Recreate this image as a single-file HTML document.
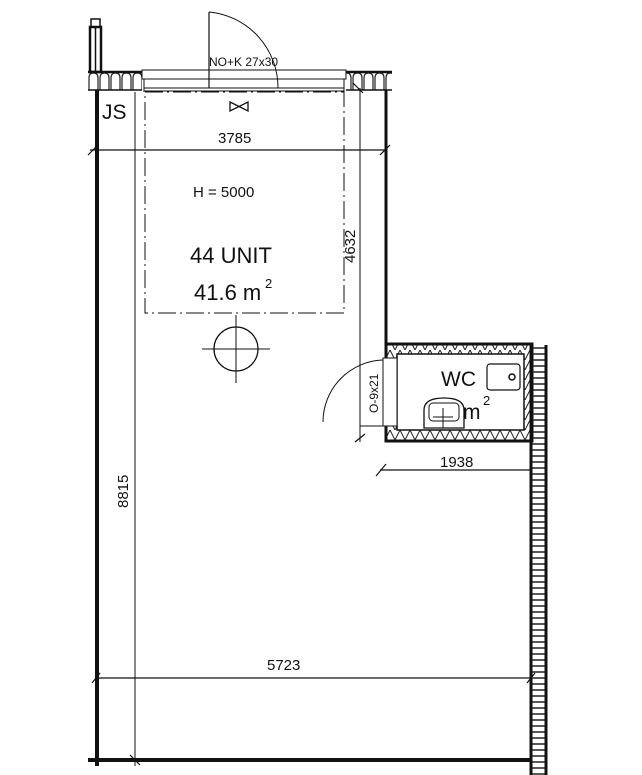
<!DOCTYPE html>
<html><head><style>body{margin:0;background:#fff}svg{display:block}text{font-family:"Liberation Sans",sans-serif;fill:#111}</style></head>
<body>
<svg width="642" height="775" viewBox="0 0 642 775" xmlns="http://www.w3.org/2000/svg">
<defs>
<pattern id="wave" width="11" height="18" patternUnits="userSpaceOnUse" x="88" y="72">
<path d="M1 18 V6 Q1 1 5.5 1 Q10 1 10 6 V18" fill="none" stroke="#222" stroke-width="1.2"/>
</pattern>
<pattern id="zig" width="10" height="10" patternUnits="userSpaceOnUse">
<path d="M0 0 L5 10 L10 0" fill="none" stroke="#222" stroke-width="1"/>
</pattern>
<pattern id="ladder" width="18" height="6" patternUnits="userSpaceOnUse" x="530" y="345">
<line x1="0" y1="3" x2="18" y2="3" stroke="#222" stroke-width="1.4"/>
</pattern>
</defs>
<g stroke="#111" fill="none">
<rect x="91" y="19" width="9" height="8" stroke-width="1.5"/>
<rect x="90" y="27" width="11" height="45" stroke-width="2.5"/>
<line x1="95.5" y1="27" x2="95.5" y2="72" stroke-width="1.5"/>
<rect x="88" y="72" width="54" height="18" fill="url(#wave)" stroke="none"/>
<rect x="346" y="72" width="46" height="18" fill="url(#wave)" stroke="none"/>
<line x1="88" y1="72" x2="142" y2="72" stroke-width="2.5"/>
<line x1="346" y1="72" x2="392" y2="72" stroke-width="2.5"/>
<line x1="88" y1="90" x2="142" y2="90" stroke-width="1.5"/>
<line x1="346" y1="90" x2="392" y2="90" stroke-width="1.5"/>
<rect x="142" y="70" width="204" height="9" stroke-width="1"/>
<line x1="144" y1="79" x2="144" y2="92" stroke-width="1"/>
<line x1="344" y1="79" x2="344" y2="92" stroke-width="1"/>
<line x1="144" y1="88" x2="344" y2="88" stroke-width="1"/>
<line x1="144" y1="91" x2="344" y2="91" stroke-width="1"/>
<line x1="209" y1="12" x2="209" y2="88" stroke-width="1.2"/>
<path d="M209 12 A76 76 0 0 1 278 88" stroke-width="1"/>
<line x1="97" y1="90" x2="97" y2="766" stroke-width="4"/>
<line x1="135" y1="92" x2="135" y2="766" stroke-width="1"/>
<line x1="88" y1="760" x2="532" y2="760" stroke-width="4"/>
<line x1="386" y1="90" x2="386" y2="346" stroke-width="3"/>
<rect x="145" y="92" width="199" height="221" stroke-width="1" stroke-dasharray="18,4,2,4"/>
<line x1="90" y1="150" x2="386" y2="150" stroke-width="1.2"/>
<line x1="88" y1="155" x2="98" y2="145" stroke-width="1.2"/>
<line x1="380" y1="155" x2="390" y2="145" stroke-width="1.2"/>
<line x1="360" y1="88" x2="360" y2="442" stroke-width="1"/>
<line x1="355" y1="442" x2="365" y2="434" stroke-width="1.2"/>
<line x1="353" y1="83" x2="363" y2="93" stroke-width="1.2"/>
<line x1="95" y1="678" x2="532" y2="678" stroke-width="1.2"/>
<line x1="92" y1="683" x2="100" y2="673" stroke-width="1.2"/>
<line x1="527" y1="683" x2="535" y2="673" stroke-width="1.2"/>
<line x1="380" y1="470" x2="530" y2="470" stroke-width="1.2"/>
<line x1="376" y1="476" x2="386" y2="464" stroke-width="1.2"/>
<line x1="130" y1="755" x2="140" y2="765" stroke-width="1.2"/>
<circle cx="236" cy="349" r="22" stroke-width="1.3"/>
<line x1="202" y1="349" x2="270" y2="349" stroke-width="1"/>
<line x1="236" y1="315" x2="236" y2="383" stroke-width="1"/>
<path d="M230 102 L248 111 L248 102 L230 111 Z" stroke-width="1.3"/>
<rect x="386" y="344" width="146" height="97" fill="url(#zig)" stroke="none"/>
<rect x="386" y="344" width="146" height="97" stroke-width="3"/>
<rect x="397" y="354" width="127" height="76" fill="#fff" stroke-width="1.5"/>
<rect x="383" y="358" width="14" height="68" fill="#fff" stroke-width="1"/>
<line x1="360" y1="426" x2="383" y2="426" stroke-width="1"/>
<path d="M323 422 A62 62 0 0 1 383 360" stroke-width="1"/>
<rect x="487" y="364" width="33" height="26" rx="3" fill="#fff" stroke-width="1.2"/>
<circle cx="512" cy="377" r="3" stroke-width="1.5"/>
<path d="M424 428 V410 Q424 398 444 398 Q464 398 464 410 V428 Z" fill="#fff" stroke-width="1.3"/>
<rect x="429" y="403" width="30" height="18" rx="4" stroke-width="1"/>
<line x1="443" y1="408" x2="443" y2="428" stroke-width="1"/>
<line x1="433" y1="417" x2="453" y2="417" stroke-width="1"/>
<rect x="530" y="345" width="17" height="430" fill="url(#ladder)" stroke="none"/>
<line x1="531" y1="345" x2="531" y2="775" stroke-width="3"/>
<line x1="546" y1="345" x2="546" y2="775" stroke-width="3"/>
</g>
<text x="209" y="66" font-size="12">NO+K 27x30</text>
<text x="102" y="119" font-size="21">JS</text>
<text x="218" y="143" font-size="15">3785</text>
<text x="193" y="197" font-size="15">H = 5000</text>
<text x="190" y="263" font-size="22">44 UNIT</text>
<text x="194" y="300" font-size="22">41.6 m</text>
<text x="265" y="288" font-size="13">2</text>
<text x="441" y="386" font-size="21">WC</text>
<text x="463" y="419" font-size="21">m</text>
<text x="483" y="405" font-size="13">2</text>
<text x="440" y="467" font-size="15">1938</text>
<text x="267" y="670" font-size="15">5723</text>
<text transform="translate(128,508) rotate(-90)" font-size="15">8815</text>
<text transform="translate(355,263) rotate(-90)" font-size="15">4632</text>
<text transform="translate(378,413) rotate(-90)" font-size="12">O-9x21</text>
</svg>
</body></html>
